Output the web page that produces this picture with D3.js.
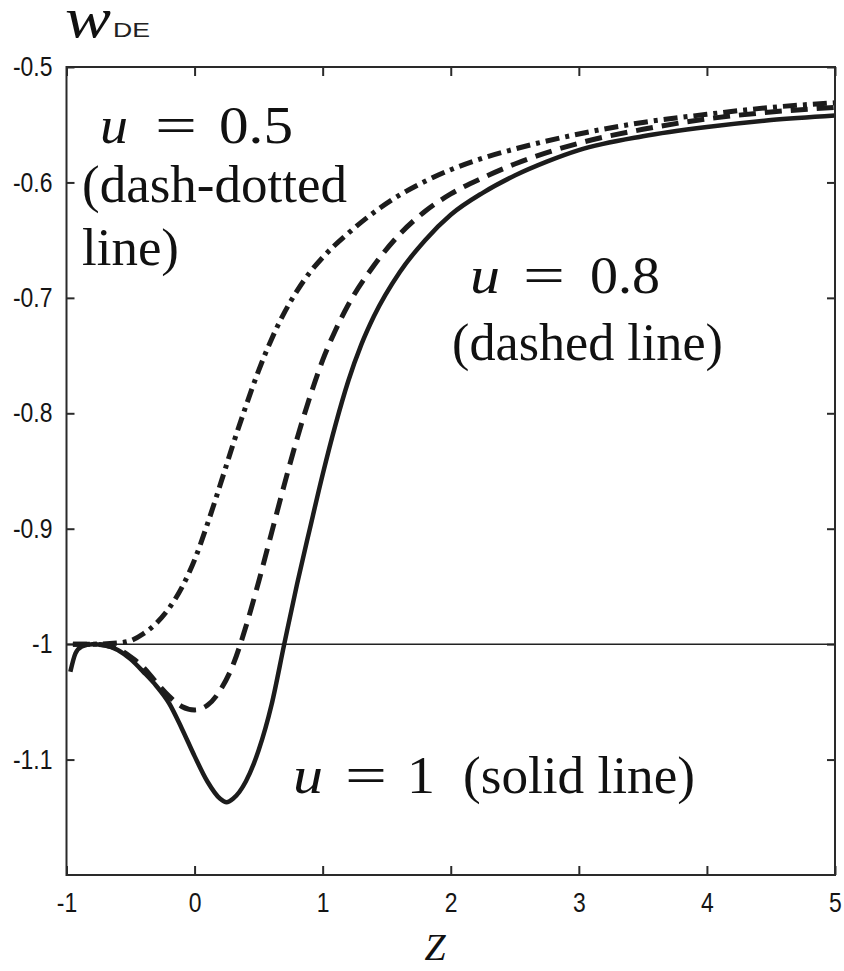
<!DOCTYPE html>
<html>
<head>
<meta charset="utf-8">
<script src="https://cdn.jsdelivr.net/npm/d3@7"></script>
<style>
  body { margin: 0; background: #fff; }
  svg { display: block; }
  .tick text { font-family: "Liberation Sans", Arial, sans-serif; font-size: 27px; fill: #151515; }
  .serif { font-family: "Liberation Serif", "Times New Roman", serif; fill: #111; }
</style>
</head>
<body>
<svg></svg>
<script>
var width = 844;
var height = 971;
var margin = {left: 66.5, right: 9, top: 67, bottom: 96};

// u = 1 (solid)
var zSolid = [-0.97, -0.93, -0.88, -0.8, -0.7, -0.6, -0.5, -0.4, -0.3, -0.2, -0.1, 0, 0.1, 0.2, 0.25, 0.3, 0.4, 0.5, 0.6, 0.7, 0.8, 0.9, 1.0, 1.1, 1.2, 1.3, 1.4, 1.6, 1.8, 2.0, 2.25, 2.5, 2.75, 3.0, 3.5, 4.0, 4.5, 5.0];
var wSolid = [-1.024, -1.008, -1.002, -1.000, -1.001, -1.005, -1.013, -1.024, -1.036, -1.051, -1.073, -1.097, -1.119, -1.134, -1.137, -1.134, -1.119, -1.092, -1.053, -1.000, -0.948, -0.900, -0.853, -0.810, -0.772, -0.741, -0.716, -0.678, -0.650, -0.628, -0.609, -0.594, -0.582, -0.572, -0.560, -0.552, -0.546, -0.542];

// u = 0.8 (dashed)
var zDashed = [-0.95, -0.8, -0.7, -0.6, -0.5, -0.4, -0.3, -0.2, -0.1, 0, 0.1, 0.2, 0.3, 0.4, 0.5, 0.6, 0.7, 0.8, 0.9, 1.0, 1.1, 1.2, 1.4, 1.6, 1.8, 2.0, 2.25, 2.5, 3.0, 3.5, 4.0, 4.5, 5.0];
var wDashed = [-1.000, -1.000, -1.001, -1.004, -1.011, -1.020, -1.033, -1.045, -1.054, -1.057, -1.053, -1.040, -1.018, -0.985, -0.946, -0.904, -0.862, -0.822, -0.786, -0.754, -0.728, -0.706, -0.672, -0.645, -0.625, -0.610, -0.596, -0.584, -0.566, -0.554, -0.545, -0.539, -0.535];

// u = 0.5 (dash-dotted)
var zDashDot = [-0.95, -0.8, -0.6, -0.5, -0.4, -0.3, -0.2, -0.1, 0, 0.1, 0.2, 0.3, 0.4, 0.5, 0.6, 0.7, 0.8, 0.9, 1.0, 1.2, 1.4, 1.6, 1.8, 2.0, 2.25, 2.5, 3.0, 3.5, 4.0, 4.5, 5.0];
var wDashDot = [-1.000, -1.000, -0.999, -0.997, -0.991, -0.982, -0.969, -0.951, -0.927, -0.896, -0.862, -0.827, -0.794, -0.763, -0.736, -0.713, -0.694, -0.678, -0.665, -0.644, -0.626, -0.611, -0.599, -0.589, -0.579, -0.571, -0.558, -0.548, -0.541, -0.535, -0.531];

var xTicks = [-1, 0, 1, 2, 3, 4, 5];
var yTicks = [-0.5, -0.6, -0.7, -0.8, -0.9, -1, -1.1];

var svg = d3.select("svg")
    .attr("width", width)
    .attr("height", height);

var xScale = d3.scaleLinear()
    .domain([-1, 5])
    .range([margin.left, width - margin.right]);

var yScale = d3.scaleLinear()
    .domain([-1.2, -0.5])
    .range([height - margin.bottom, margin.top]);

// axes with inward ticks, frame drawn separately
var xAxis = d3.axisBottom(xScale)
    .tickValues(xTicks)
    .tickSize(-9)
    .tickPadding(18)
    .tickFormat(d => String(d));

var yAxis = d3.axisLeft(yScale)
    .tickValues(yTicks)
    .tickSize(-8)
    .tickPadding(14)
    .tickFormat(d => String(d));

var gx = svg.append("g")
    .attr("transform", "translate(0," + (height - margin.bottom) + ")")
    .call(xAxis);
var gy = svg.append("g")
    .attr("transform", "translate(" + margin.left + ",0)")
    .call(yAxis);

// mirrored ticks on top and right
var gxTop = svg.append("g")
    .attr("transform", "translate(0," + margin.top + ")")
    .call(d3.axisTop(xScale).tickValues(xTicks).tickSize(-9).tickFormat(""));
var gyRight = svg.append("g")
    .attr("transform", "translate(" + (width - margin.right) + ",0)")
    .call(d3.axisRight(yScale).tickValues(yTicks).tickSize(-8).tickFormat(""));

[gx, gy, gxTop, gyRight].forEach(function(g) {
    g.select(".domain").remove();
    g.selectAll(".tick line").attr("stroke", "#2a2a2a").attr("stroke-width", 2);
});
// narrow the tick digits a little
gx.selectAll(".tick text").attr("transform", "scale(0.85,1)");
gy.selectAll(".tick text").attr("transform", "scale(0.85,1)").attr("x", -16.5);

// reference line at w = -1
svg.append("line")
    .attr("x1", xScale(-1))
    .attr("x2", xScale(5))
    .attr("y1", yScale(-1))
    .attr("y2", yScale(-1))
    .attr("stroke", "#222")
    .attr("stroke-width", 1.5);

var line = d3.line()
    .x(d => xScale(d[0]))
    .y(d => yScale(d[1]))
    .curve(d3.curveMonotoneX);

var series = [
    {z: zSolid, w: wSolid, dash: null, sw: 4.5},
    {z: zDashed, w: wDashed, dash: "17,9", sw: 5},
    {z: zDashDot, w: wDashDot, dash: "14,6,4,6", sw: 5}
];

svg.append("g").selectAll("path")
    .data(series)
    .enter()
    .append("path")
        .attr("d", s => line(d3.zip(s.z, s.w)))
        .attr("fill", "none")
        .attr("stroke", "#1c1c1c")
        .attr("stroke-width", s => s.sw)
        .attr("stroke-dasharray", s => s.dash);

// plot frame
svg.append("rect")
    .attr("x", margin.left)
    .attr("y", margin.top)
    .attr("width", width - margin.right - margin.left)
    .attr("height", height - margin.bottom - margin.top)
    .attr("fill", "none")
    .attr("stroke", "#2a2a2a")
    .attr("stroke-width", 2);

// axis titles
svg.append("text")
    .attr("class", "serif")
    .attr("x", 65)
    .attr("y", 37)
    .attr("textLength", 46)
    .attr("lengthAdjust", "spacingAndGlyphs")
    .style("font-style", "italic")
    .style("font-size", "56px")
    .text("w");
svg.append("text")
    .attr("x", 113)
    .attr("y", 37)
    .attr("textLength", 37)
    .attr("lengthAdjust", "spacingAndGlyphs")
    .style("font-family", "'Liberation Sans', Arial, sans-serif")
    .style("font-size", "21px")
    .attr("fill", "#222")
    .text("DE");

svg.append("text")
    .attr("class", "serif")
    .attr("x", 435)
    .attr("y", 960)
    .style("text-anchor", "middle")
    .style("font-style", "italic")
    .style("font-size", "38px")
    .attr("fill", "#222")
    .text("Z");

// curve annotations: [text, x, baseline, width, italic]
var notes = [
    ["u", 100, 143, 28, true], ["=", 155, 143, 42, false], ["0.5", 219, 143, 74, false],
    ["(dash-dotted", 82, 202, 265, false], ["line)", 82, 265, 97, false],
    ["u", 470, 293, 30, true], ["=", 523, 293, 42, false], ["0.8", 590, 293, 70, false],
    ["(dashed line)", 452, 360, 271, false],
    ["u", 293, 793, 30, true], ["=", 345, 793, 42, false], ["1", 407, 793, 28, false],
    ["(solid line)", 463, 793, 232, false]
];

svg.append("g").selectAll("text")
    .data(notes)
    .enter()
    .append("text")
        .attr("class", "serif")
        .attr("x", d => d[1])
        .attr("y", d => d[2])
        .attr("textLength", d => d[3])
        .attr("lengthAdjust", "spacingAndGlyphs")
        .style("font-size", "52px")
        .style("font-style", d => d[4] ? "italic" : "normal")
        .text(d => d[0]);
</script>
</body>
</html>
